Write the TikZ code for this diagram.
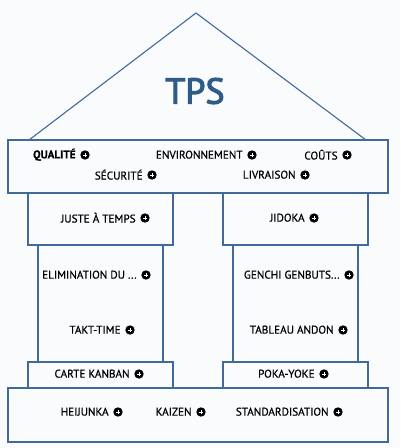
\documentclass[tikz,border=0pt]{standalone}
\usepackage{fontspec}
\setmainfont{PT Sans}[FakeBold=0.6]
\newfontfamily\tpsfont{PT Sans}[FakeBold=3]
\definecolor{linec}{HTML}{41699A}
\definecolor{tpsc}{HTML}{2E5B87}
\definecolor{bgc}{HTML}{FAFBFC}
\newcommand\itemlabel[5][]{%
  \node[pc] (#2-i) at (#3,#4) {};
  \draw[white,line width=1pt] ([xshift=-2.1pt]#2-i.center) -- ([xshift=2.1pt]#2-i.center)
    ([yshift=-2.1pt]#2-i.center) -- ([yshift=2.1pt]#2-i.center);
  \node[lbl,#1] (#2) at ([xshift=-4.3pt,yshift=0.3pt]#2-i.west) {#5};}
\begin{document}
\begin{tikzpicture}[x=1pt,y=-1pt,
  box/.style={draw=linec,line width=1.3pt,fill=bgc,inner sep=0pt},
  lbl/.style={font=\fontsize{11.2}{13}\selectfont,inner sep=0pt,anchor=east},
  pc/.style={circle,fill=black,minimum size=9.4pt,inner sep=0pt}]
\fill[bgc] (0,0) rectangle (400,448);
\useasboundingbox (0,0) rectangle (400,448);
% roof
\coordinate (apex) at (196,13);
\coordinate (roofL) at (29,140);
\coordinate (roofR) at (366,140);
\draw[linec,line width=1.1pt] (roofL) -- (apex) -- (roofR);
\node[text=tpsc,font=\tpsfont\fontsize{36}{40}\selectfont] (tps) at (195,91) {TPS};
% shafts
\node[box,minimum width=125,minimum height=117] (shaftL) at (100.5,303.5) {};
\node[box,minimum width=125,minimum height=117] (shaftR) at (295.5,303.5) {};
% caps
\node[box,minimum width=145,minimum height=52] (capL) at (100.5,219) {};
\node[box,minimum width=145,minimum height=52] (capR) at (295.5,219) {};
\node[box,minimum width=145,minimum height=26] (lowL) at (100.5,375) {};
\node[box,minimum width=145,minimum height=26] (lowR) at (295.5,375) {};
% band and base
\node[box,minimum width=380,minimum height=53] (band) at (198,166.5) {};
\node[box,minimum width=380,minimum height=54] (base) at (198,415) {};
% icons and labels
\itemlabel[font=\fontsize{11.2}{13}\bfseries\selectfont]{q}{85}{155}{QUALITÉ}
\itemlabel{env}{252}{155}{ENVIRONNEMENT}
\itemlabel{cou}{347}{155}{COÛTS}
\itemlabel{sec}{152}{175}{SÉCURITÉ}
\itemlabel{liv}{305}{175}{LIVRAISON}
\itemlabel{jat}{145}{218}{JUSTE À TEMPS}
\itemlabel{jid}{314}{218}{JIDOKA}
\itemlabel{eli}{146}{275}{ELIMINATION DU ...\hspace{4pt}}
\itemlabel{gen}{349}{275}{GENCHI GENBUTS...}
\itemlabel{tak}{130}{330}{TAKT-TIME}
\itemlabel{tab}{343}{330}{TABLEAU ANDON}
\itemlabel{kan}{139}{374}{CARTE KANBAN}
\itemlabel{pok}{324}{374}{POKA-YOKE}
\itemlabel{hei}{118}{412}{HEIJUNKA}
\itemlabel{kai}{201}{412}{KAIZEN}
\itemlabel{sta}{338}{412}{STANDARDISATION}
\end{tikzpicture}
\end{document}
